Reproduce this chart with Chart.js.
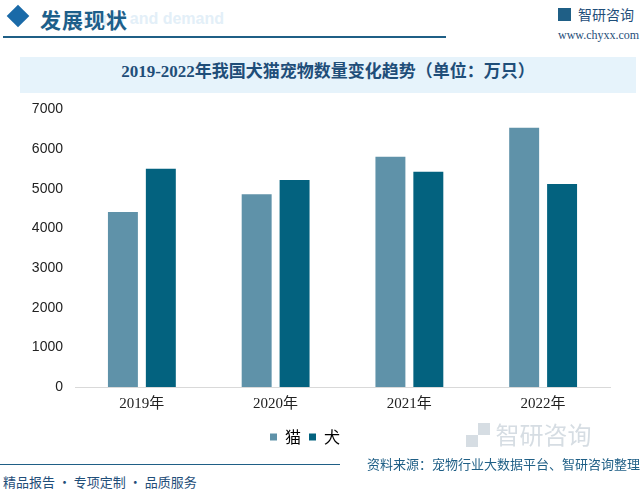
<!DOCTYPE html>
<html>
<head>
<meta charset="utf-8">
<script src="https://cdn.jsdelivr.net/npm/chart.js@4"></script>
<style>
  html, body { margin: 0; padding: 0; background: #fff; }
  #wrap { position: relative; width: 643px; height: 493px; overflow: hidden; font-family: "Noto Sans CJK SC", sans-serif; }
  .abs { position: absolute; white-space: nowrap; }
  #chartBox { position: absolute; left: 0; top: 89px; width: 643px; height: 366px; }
</style>
</head>
<body>
<div id="wrap">
  <!-- header -->
  <div class="abs" style="left:10px;top:8px;width:16px;height:16px;background:#1a6aa8;transform:rotate(45deg);"></div>
  <div class="abs" style="left:72px;top:10px;font:bold 16px 'Liberation Sans',sans-serif;color:#e3eff8;">Supply and demand</div>
  <div class="abs" style="left:40px;top:4px;font-size:21px;color:#1d5f8a;font-family:'Noto Sans CJK SC';font-weight:bold;letter-spacing:1px;">发展现状</div>
  <div class="abs" style="left:3px;top:36px;width:443px;height:2px;background:#1f5f86;"></div>
  <div class="abs" style="left:558px;top:8px;width:13px;height:13px;background:#1f5f86;"></div>
  <div class="abs" style="left:578px;top:4px;font-size:14px;color:#1f4e79;">智研咨询</div>
  <div class="abs" style="left:558px;top:28px;font:12px 'Liberation Serif',serif;color:#1f4e79;">www.chyxx.com</div>

  <!-- title -->
  <div class="abs" style="left:20px;top:57px;width:616px;height:36px;background:#e6f3fb;"></div>
  <div class="abs" style="left:20px;top:57px;width:616px;height:36px;line-height:36px;text-align:center;font:bold 17px 'Liberation Serif','Noto Sans CJK SC',serif;color:#1f4e79;">2019-2022年我国犬猫宠物数量变化趋势（单位：万只）</div>

  <div id="chartBox"><canvas id="chart" width="643" height="366"></canvas></div>

  <!-- footer -->
  <div class="abs" style="left:0;top:464px;width:340px;height:1px;background:#1f5f86;"></div>
  <div class="abs" style="left:3px;top:472px;font-size:13px;color:#1f4e79;">精品报告 · 专项定制 · 品质服务</div>
  <div class="abs" style="right:3px;top:454px;font-size:13px;color:#1f5f86;">资料来源：宠物行业大数据平台、智研咨询整理</div>
  <div class="abs" style="left:466px;top:416px;font-size:24px;color:#d6dde3;">▞ 智研咨询</div>
</div>
<script>
const years = ['2019年', '2020年', '2021年', '2022年'];
const cats = [4412, 4862, 5806, 6536];
const dogs = [5503, 5222, 5429, 5119];

const ctx = document.getElementById('chart').getContext('2d');

const chart = new Chart(ctx, {
    type: 'bar',
    data: {
        labels: years,
        datasets: [
            { label: '猫', data: cats, backgroundColor: '#5f92a9' },
            { label: '犬', data: dogs, backgroundColor: '#03627f' }
        ]
    },
    options: {
        responsive: false,
        animation: false,
        layout: { padding: { left: 0, right: 33, top: 4, bottom: 0 } },
        datasets: { bar: { categoryPercentage: 0.567, barPercentage: 0.79 } },
        plugins: {
            tooltip: { enabled: false },
            legend: {
                position: 'bottom',
                labels: {
                    boxWidth: 7, boxHeight: 7, padding: 8,
                    color: '#000',
                    font: { size: 16, family: 'Noto Sans CJK SC' }
                }
            }
        },
        scales: {
            x: {
                grid: { display: false, drawTicks: false },
                border: { color: '#d9d9d9', width: 1 },
                ticks: { color: '#222', padding: 8, maxRotation: 0, font: { size: 15, family: "'Liberation Serif', 'Noto Sans CJK SC', serif" } }
            },
            y: {
                min: 0, max: 7000,
                afterFit: (s) => { s.width = 75; },
                grid: { display: false, drawTicks: false },
                border: { display: false },
                ticks: { stepSize: 1000, color: '#222', padding: 12, callback: (v) => String(v), font: { size: 14, family: "'Liberation Sans', sans-serif" } }
            }
        }
    }
});
</script>
</body>
</html>
